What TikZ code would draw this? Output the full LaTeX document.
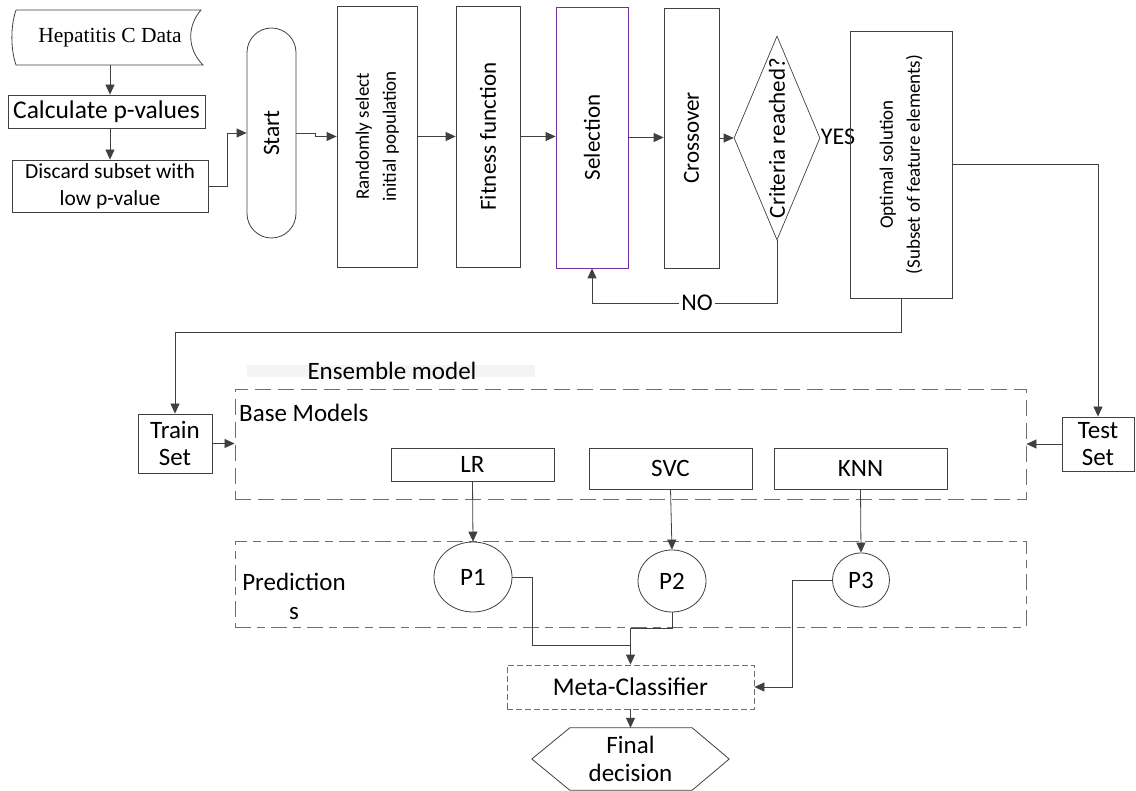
\documentclass[tikz,border=0pt]{standalone}
\usepackage{fontspec}
\setmainfont{Carlito}
\newfontfamily\serifA{Liberation Serif}
\usepackage{graphicx}
\usetikzlibrary{arrows.meta,shapes.geometric,calc}
\definecolor{lncol}{HTML}{404040}
\definecolor{dshcol}{HTML}{6E6E6E}
\definecolor{purp}{HTML}{7030A0}
\newcommand{\fsz}[2]{\fontsize{#1}{#2}\selectfont}
\begin{document}
\begin{tikzpicture}[x=1pt,y=-1pt,
  box/.style={draw=lncol,line width=0.8pt,inner sep=0pt,align=center,text=black},
  plain/.style={draw=none,inner sep=0pt,align=center,text=black},
  conn/.style={draw=lncol,line width=0.8pt},
  arr/.style={draw=lncol,line width=0.8pt,-{Triangle[length=10pt,width=9pt]}},
  dbox/.style={draw=dshcol,line width=0.9pt,dash pattern=on 16pt off 7pt,inner sep=0pt},
  pbox/.style={draw=dshcol,line width=0.9pt,dash pattern=on 16pt off 6pt on 8pt off 6pt,inner sep=0pt},
  mbox/.style={draw=dshcol,line width=0.8pt,dash pattern=on 6pt off 3pt,inner sep=0pt,text=black}]
\useasboundingbox (0,0) rectangle (1136,791);

% ---- top-left chain
\draw[conn] (16,10) -- (201,10) .. controls (187,26) and (187,49) .. (203,65) -- (16,65) .. controls (10.5,49) and (10.5,26) .. (16,10);
\node[plain,minimum width=191pt,minimum height=55pt,font=\serifA\fsz{21.5}{25}] (data) at (110,37.5) {Hepatitis C Data};
\node[box,minimum width=197pt,minimum height=33pt,font=\fsz{25.5}{30}] (calc) at (106.5,111.5) {Calculate p-values};
\node[box,minimum width=196pt,minimum height=52pt,font=\fsz{21.5}{27}] (disc) at (110,186) {Discard subset with\\low p-value};

% ---- GA chain
\node[box,rounded corners=24.5pt,minimum width=49pt,minimum height=210pt] (start) at (271.5,133) {\rotatebox{90}{\fsz{23.5}{28}Start}};
\node[box,minimum width=80pt,minimum height=261pt] (rand) at (377,136.5) {\rotatebox{90}{\fsz{19}{27}\begin{tabular}{@{}c@{}}Randomly select\\initial population\end{tabular}}};
\node[box,minimum width=64pt,minimum height=261pt] (fit) at (488,136.5) {\rotatebox{90}{\fsz{23}{28}Fitness function}};
\node[box,draw=purp,minimum width=72pt,minimum height=261pt] (sel) at (592,137.5) {\rotatebox{90}{\fsz{23}{28}Selection}};
\node[box,minimum width=55pt,minimum height=260pt] (cross) at (691.5,138) {\rotatebox{90}{\fsz{23}{28}Crossover}};
\node[draw=lncol,line width=0.7pt,diamond,minimum width=86pt,minimum height=204pt,inner sep=0pt] (crit) at (777,138) {};
\node[plain] (critt) at (crit.center) {\rotatebox{90}{\fsz{23}{28}Criteria reached?}};
\node[plain,font=\fsz{24}{28}] (yes) at (838,137) {YES};
\node[box,minimum width=102pt,minimum height=267pt] (opt) at (901,164.5) {\rotatebox{90}{\fsz{19}{27}\begin{tabular}{@{}c@{}}Optimal solution\\(Subset of feature elements)\end{tabular}}};

% ---- ensemble
\fill[gray!9] (247,365) rectangle (535,377);
\node[plain,font=\fsz{25}{30}] (ens) at (392,371) {Ensemble model};
\node[dbox,minimum width=791pt,minimum height=110pt] (base) at (630.5,444) {};
\node[plain,anchor=west,font=\fsz{25}{30}] (basel) at (239,413) {Base Models};
\node[box,minimum width=74pt,minimum height=59pt,font=\fsz{25}{27}] (train) at (175,443.5) {Train\\Set};
\node[box,minimum width=72pt,minimum height=54pt,font=\fsz{25}{27}] (test) at (1098,444) {Test\\Set};
\node[box,minimum width=163pt,minimum height=33pt,font=\fsz{25}{30}] (lr) at (472.5,464.5) {LR};
\node[box,minimum width=163pt,minimum height=41pt,font=\fsz{25}{30}] (svc) at (670.5,468.5) {SVC};
\node[box,minimum width=173pt,minimum height=41pt,font=\fsz{25}{30}] (knn) at (860.5,468.5) {KNN};

\node[pbox,minimum width=791pt,minimum height=86pt] (pred) at (630.5,584) {};
\node[plain,font=\fsz{25}{29}] (predl) at (294,596) {Prediction\\s};
\node[box,ellipse,minimum width=78pt,minimum height=70pt,font=\fsz{25}{30}] (p1) at (473,577) {P1};
\node[box,ellipse,minimum width=68pt,minimum height=62pt,font=\fsz{25}{30}] (p2) at (672,581) {P2};
\node[box,ellipse,minimum width=57pt,minimum height=54pt,font=\fsz{25}{30}] (p3) at (861,580) {P3};

\node[mbox,minimum width=247pt,minimum height=44pt,font=\fsz{25.5}{30}] (meta) at (630.5,687) {Meta-Classifier};
\node[plain,minimum width=197pt,minimum height=62pt,font=\fsz{25}{28}] (final) at (630.5,759) {Final\\decision};
\draw[conn] (final.west) -- ($(final.north west)+(38,0)$) -- ($(final.north east)+(-37,0)$) -- (final.east) -- ($(final.south east)+(-37,0)$) -- ($(final.south west)+(38,0)$) -- cycle;

% ---- connectors
\draw[arr] (data.south) -- (data.south |- calc.north);
\draw[arr] (calc.south -| data.south) -- (disc.north);
\draw[arr] (disc.east) -- ++(19,0) |- (start.west);
\draw[arr] (start.east) -- ++(19,0) |- (rand.west);
\draw[arr] (rand.east) -- (fit.west);
\draw[arr] (fit.east) -- (fit.east -| sel.west);
\draw[arr] (sel.east) -- (sel.east -| cross.west);
\draw[arr] (cross.east) -- (crit.west);
\draw[arr] (crit.south) -- ++(0,63) -| (sel.south);
\node[plain,fill=white,inner sep=2pt,font=\fsz{24}{28}] (no) at (697,303) {NO};
\draw[arr] (opt.east) -| (test.north);
\draw[arr] (opt.south) -- ++(0,34) -| (train.north);
\draw[arr] (train.east) -- (train.east -| base.west);
\draw[arr] (test.west) -- (test.west -| base.east);
\draw[arr] (lr.south) -- (p1.north);
\draw[arr] (svc.south) -- (p2.north);
\draw[arr] (knn.south) -- (p3.north);
\draw[arr] (p1.east) -- ++(20,0) |- ($(meta.north)+(0,-19)$) -- (meta.north);
\draw[conn] (p2.south) -- ++(0,16) -| ($(meta.north)+(0,-19)$);
\draw[arr] (p3.west) -- ++(-40,0) |- (meta.east);
\draw[arr] (meta.south) -- (final.north);
\end{tikzpicture}
\end{document}
